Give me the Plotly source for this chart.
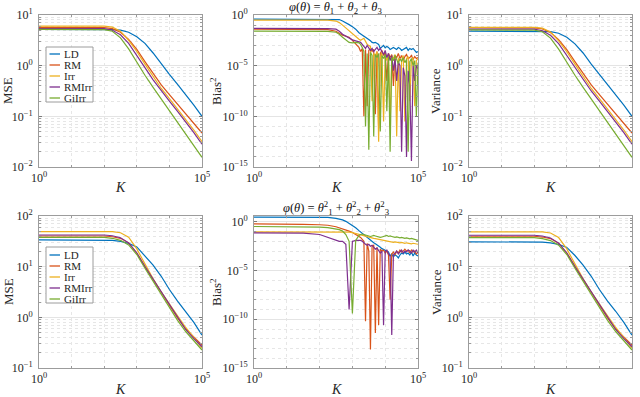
import numpy as np
import plotly.graph_objects as go

W, H = 640, 397
FONT = "Liberation Serif"

methods = ["LD", "RM", "Irr", "RMIrr", "GiIrr"]
colors = ["#0072BD", "#D95319", "#EDB120", "#7E2F8E", "#77AC30"]

# K grid for smooth panels (MSE / Variance)
K_smooth = [1, 3.16, 10, 31.6, 100, 178, 316, 562, 1000, 1778, 3162, 5623,
            10000, 17783, 31623, 56234, 100000]

# K grid for bias panels
K_bias = [1, 3.16, 10, 31.6, 100, 178, 316, 398, 501, 631,
          794, 1000, 1259, 1585, 1778, 1995, 2239, 2512, 2818, 3162,
          3548, 3981, 4467, 5012, 5623, 6310, 7079, 7943, 8913, 10000,
          11220, 12589, 14125, 15849, 17783, 19953, 22387, 25119, 28184, 31623,
          35481, 39811, 44668, 50119, 56234, 63096, 70795, 79433, 89125, 100000]

# ---- values, stored as log10 of the plotted quantity ----
# Row 1: phi = theta1 + theta2 + theta3
mse1_log10 = {
    "LD":    [0.716, 0.716, 0.716, 0.716, 0.716, 0.71, 0.70, 0.66, 0.57, 0.44, 0.25, 0.03, -0.17, -0.37, -0.57, -0.78, -1.0],
    "RM":    [0.755, 0.755, 0.755, 0.755, 0.75, 0.73, 0.66, 0.52, 0.32, 0.08, -0.16, -0.38, -0.57, -0.76, -0.95, -1.14, -1.33],
    "Irr":   [0.78, 0.78, 0.78, 0.78, 0.78, 0.76, 0.68, 0.50, 0.28, 0.03, -0.22, -0.45, -0.65, -0.85, -1.05, -1.27, -1.50],
    "RMIrr": [0.73, 0.73, 0.73, 0.73, 0.73, 0.70, 0.61, 0.44, 0.21, -0.04, -0.28, -0.50, -0.70, -0.90, -1.10, -1.32, -1.55],
    "GiIrr": [0.716, 0.716, 0.716, 0.716, 0.71, 0.68, 0.55, 0.33, 0.06, -0.19, -0.43, -0.66, -0.88, -1.10, -1.33, -1.57, -1.81],
}
var1_log10 = {
    "LD":    [0.68, 0.68, 0.68, 0.68, 0.68, 0.675, 0.67, 0.64, 0.56, 0.43, 0.25, 0.03, -0.17, -0.37, -0.57, -0.78, -1.0],
    "RM":    [0.75, 0.75, 0.75, 0.75, 0.745, 0.725, 0.655, 0.515, 0.315, 0.08, -0.16, -0.38, -0.57, -0.76, -0.95, -1.14, -1.33],
    "Irr":   [0.755, 0.755, 0.755, 0.755, 0.755, 0.74, 0.665, 0.49, 0.275, 0.03, -0.22, -0.45, -0.65, -0.85, -1.05, -1.27, -1.50],
    "RMIrr": [0.72, 0.72, 0.72, 0.72, 0.72, 0.69, 0.60, 0.435, 0.205, -0.04, -0.28, -0.50, -0.70, -0.90, -1.10, -1.32, -1.55],
    "GiIrr": [0.705, 0.705, 0.705, 0.705, 0.70, 0.67, 0.545, 0.325, 0.06, -0.19, -0.43, -0.66, -0.88, -1.10, -1.33, -1.57, -1.81],
}
bias1_log10 = {
    "LD": [-0.4, -0.4, -0.4, -0.4, -0.4, -0.4, -0.42, -0.45, -0.6, -0.75,
           -0.95, -1.15, -1.4, -1.75, -1.9, -2.0, -2.1, -2.2, -2.3, -2.4,
           -2.55, -2.7, -2.75, -2.7, -2.85, -2.9, -3.3, -3.1, -3.0, -3.25,
           -3.1, -3.2, -3.4, -3.3, -3.2, -3.3, -3.4, -3.2, -3.3, -3.5,
           -3.4, -3.3, -3.2, -3.5, -3.3, -3.4, -3.3, -3.5, -3.7, -3.6],
    "RM": [-1.4, -1.4, -1.4, -1.4, -1.4, -1.45, -1.6, -1.8, -2.0, -2.1,
           -2.2, -2.5, -2.8, -3.2, -3.6, -3.3, -10.0, -3.4, -9.0, -3.5,
           -3.3, -3.6, -3.4, -9.8, -3.6, -11.2, -3.8, -3.5, -4.0, -3.7,
           -6.5, -3.8, -4.2, -3.9, -7.0, -4.0, -4.2, -3.8, -4.3, -4.0,
           -4.5, -4.1, -3.9, -4.3, -4.2, -4.0, -4.4, -4.1, -4.3, -4.2],
    "Irr": [-0.5, -0.5, -0.5, -0.5, -0.5, -0.5, -0.6, -0.75, -1.0, -1.3,
            -1.6, -1.9, -2.2, -2.4, -2.5, -2.4, -2.3, -2.6, -2.9, -3.0,
            -3.1, -8.5, -3.8, -4.0, -3.6, -12.5, -4.2, -3.7, -10.5, -4.0,
            -4.5, -3.8, -11.0, -4.0, -4.3, -3.9, -12.0, -4.2, -9.5, -4.5,
            -4.0, -10.5, -4.3, -4.1, -8.5, -4.4, -4.2, -9.0, -4.5, -4.3],
    "RMIrr": [-1.32, -1.32, -1.32, -1.32, -1.32, -1.35, -1.4, -1.6, -1.9, -2.1,
              -2.3, -2.45, -2.55, -2.65, -2.7, -2.9, -3.1, -3.3, -3.0, -3.3,
              -3.5, -3.3, -3.6, -3.4, -3.2, -3.5, -3.3, -3.6, -3.9, -3.5,
              -4.2, -3.8, -4.5, -4.0, -5.5, -4.3, -6.5, -4.6, -5.0, -13.5,
              -5.2, -6.0, -14.0, -5.5, -7.0, -14.4, -5.0, -6.5, -5.0, -5.3],
    "GiIrr": [-1.6, -1.6, -1.6, -1.6, -1.6, -1.62, -1.7, -1.9, -2.2, -2.5,
              -2.7, -2.75, -2.7, -2.75, -2.9, -3.2, -3.6, -11.0, -3.8, -13.3,
              -3.7, -4.0, -12.0, -3.9, -4.2, -3.8, -11.5, -4.0, -4.3, -3.9,
              -9.5, -4.1, -13.5, -4.2, -4.5, -4.0, -4.4, -4.8, -4.3, -4.6,
              -4.2, -4.7, -4.4, -13.5, -4.6, -4.3, -5.0, -4.5, -10.0, -4.7],
}

# Row 2: phi = theta1^2 + theta2^2 + theta3^2
mse2_log10 = {
    "LD":    [1.53, 1.53, 1.53, 1.53, 1.53, 1.52, 1.50, 1.46, 1.39, 1.22, 1.03, 0.81, 0.55, 0.32, 0.12, -0.10, -0.35],
    "RM":    [1.605, 1.605, 1.605, 1.605, 1.605, 1.59, 1.56, 1.47, 1.27, 1.00, 0.75, 0.49, 0.24, -0.01, -0.23, -0.40, -0.55],
    "Irr":   [1.69, 1.69, 1.69, 1.69, 1.69, 1.69, 1.67, 1.58, 1.35, 1.05, 0.76, 0.50, 0.26, 0.03, -0.20, -0.40, -0.61],
    "RMIrr": [1.625, 1.625, 1.625, 1.625, 1.625, 1.61, 1.57, 1.47, 1.27, 1.00, 0.75, 0.49, 0.24, -0.01, -0.24, -0.42, -0.58],
    "GiIrr": [1.58, 1.58, 1.58, 1.58, 1.58, 1.56, 1.52, 1.43, 1.24, 0.97, 0.71, 0.45, 0.19, -0.06, -0.28, -0.47, -0.645],
}
var2_log10 = {
    "LD":    [1.49, 1.49, 1.49, 1.49, 1.49, 1.485, 1.47, 1.44, 1.38, 1.22, 1.03, 0.81, 0.55, 0.32, 0.12, -0.10, -0.35],
    "RM":    [1.60, 1.60, 1.60, 1.60, 1.60, 1.585, 1.555, 1.465, 1.27, 1.00, 0.75, 0.49, 0.24, -0.01, -0.23, -0.40, -0.55],
    "Irr":   [1.685, 1.685, 1.685, 1.685, 1.685, 1.685, 1.665, 1.575, 1.35, 1.05, 0.76, 0.50, 0.26, 0.03, -0.20, -0.40, -0.61],
    "RMIrr": [1.62, 1.62, 1.62, 1.62, 1.62, 1.605, 1.565, 1.465, 1.27, 1.00, 0.75, 0.49, 0.24, -0.01, -0.24, -0.42, -0.58],
    "GiIrr": [1.575, 1.575, 1.575, 1.575, 1.575, 1.555, 1.515, 1.425, 1.24, 0.97, 0.71, 0.45, 0.19, -0.06, -0.28, -0.47, -0.645],
}
bias2_log10 = {
    "LD": [0.48, 0.48, 0.48, 0.48, 0.48, 0.45, 0.35, 0.3, 0.2, 0.05,
           -0.15, -0.35, -0.6, -0.9, -1.05, -1.15, -1.3, -1.45, -1.6, -1.75,
           -1.9, -2.0, -2.15, -2.25, -2.35, -2.5, -2.6, -2.75, -2.85, -2.95,
           -3.0, -3.1, -3.5, -3.3, -3.6, -3.4, -3.5, -3.7, -3.4, -3.2,
           -3.3, -3.1, -3.3, -3.2, -3.4, -3.1, -3.5, -3.2, -3.4, -3.5],
    "RM": [-0.2, -0.2, -0.2, -0.25, -0.3, -0.35, -0.5, -0.6, -0.7, -0.8,
           -0.95, -1.1, -1.3, -1.5, -1.6, -1.8, -2.0, -10.2, -2.2, -3.0,
           -13.1, -2.5, -2.4, -11.4, -2.6, -10.6, -2.8, -3.0, -2.9, -3.2,
           -3.0, -3.4, -8.0, -3.3, -3.1, -3.4, -3.0, -3.2, -2.9, -3.1,
           -3.0, -2.8, -3.0, -2.9, -3.2, -2.9, -3.1, -3.0, -3.3, -3.1],
    "Irr": [-1.03, -1.03, -1.03, -1.03, -1.02, -1.0, -1.0, -1.0, -1.0, -1.02,
            -1.05, -1.1, -1.2, -1.3, -1.35, -1.4, -1.45, -1.5, -1.5, -1.55,
            -1.6, -1.65, -1.7, -1.72, -1.75, -1.8, -1.85, -1.85, -1.9, -1.95,
            -1.95, -2.0, -2.0, -2.05, -2.1, -2.05, -2.1, -2.1, -2.15, -2.1,
            -2.15, -2.2, -2.15, -2.2, -2.2, -2.25, -2.2, -2.25, -2.3, -2.3],
    "RMIrr": [-1.14, -1.14, -1.14, -1.15, -1.3, -1.6, -1.9, -2.0, -2.0, -2.3,
              -9.0, -2.0, -1.9, -1.85, -1.9, -2.0, -2.2, -2.3, -2.4, -2.3,
              -2.5, -2.4, -2.6, -2.8, -2.7, -2.9, -3.2, -3.0, -10.6, -3.1,
              -2.9, -3.3, -3.5, -11.6, -3.4, -3.2, -3.0, -3.3, -3.1, -2.9,
              -3.2, -3.0, -3.1, -2.9, -3.0, -3.2, -2.9, -3.1, -2.9, -3.2],
    "GiIrr": [-0.48, -0.48, -0.48, -0.5, -0.55, -0.6, -0.7, -0.8, -0.95, -1.3,
              -2.0, -9.4, -1.9, -1.4, -1.3, -1.25, -1.3, -1.35, -1.4, -1.45,
              -1.5, -1.45, -1.4, -1.45, -1.5, -1.55, -1.6, -1.55, -1.5, -1.45,
              -1.4, -1.5, -1.45, -1.5, -1.55, -1.6, -1.55, -1.6, -1.65, -1.6,
              -1.65, -1.7, -1.65, -1.7, -1.75, -1.7, -1.75, -1.8, -1.85, -1.9],
}

y_labels = ["MSE", "Bias<sup>2</sup>", "Variance"]
titles = ["<i>φ</i>(<i>θ</i>) = <i>θ</i><sub>1</sub> + <i>θ</i><sub>2</sub> + <i>θ</i><sub>3</sub>",
          "<i>φ</i>(<i>θ</i>) = <i>θ</i><sup>2</sup><sub>1</sub> + <i>θ</i><sup>2</sup><sub>2</sub> + <i>θ</i><sup>2</sup><sub>3</sub>"]

panels = [
    (1, mse1_log10, K_smooth, (-2, 1)),
    (2, bias1_log10, K_bias, (-15, 0)),
    (3, var1_log10, K_smooth, (-2, 1)),
    (4, mse2_log10, K_smooth, (-1, 2)),
    (5, bias2_log10, K_bias, (-15, 0.6)),
    (6, var2_log10, K_smooth, (-1, 2)),
]

# layout geometry (pixels)
xdom_px = [(39, 202), (254, 418), (469, 632)]
ydom_px = [(15, 167), (216, 368)]


def sup_label(e):
    s = str(e).replace("-", "\u2212")
    return f"10<sup>{s}</sup>"


fig = go.Figure()

for idx, data, K, yr in panels:
    ax = "" if idx == 1 else str(idx)
    for m, c in zip(methods, colors):
        fig.add_trace(go.Scatter(
            x=K, y=np.power(10.0, np.array(data[m])), mode="lines",
            line=dict(color=c, width=1.2), name=m, showlegend=False,
            xaxis="x" + ax, yaxis="y" + ax, hoverinfo="skip"))

axis_common = dict(
    type="log", showline=True, linecolor="#9c9c9c", linewidth=1, mirror="ticks",
    ticks="inside", ticklen=3, tickcolor="#7a7a7a", showgrid=True,
    gridcolor="#e4e4e4", gridwidth=1, zeroline=False, automargin=False,
    tickfont=dict(family=FONT, size=12, color="#262626"),
)

layout = dict(
    width=W, height=H, margin=dict(l=0, r=0, t=0, b=0, autoexpand=False),
    paper_bgcolor="white", plot_bgcolor="white",
    font=dict(family=FONT, size=12, color="#262626"),
    showlegend=False,
)

for idx, data, K, yr in panels:
    r = 0 if idx <= 3 else 1
    col = (idx - 1) % 3
    x0, x1 = xdom_px[col]
    y0, y1 = ydom_px[r]
    ax = "" if idx == 1 else str(idx)
    layout["xaxis" + ax] = dict(
        axis_common, domain=[x0 / W, x1 / W], range=[0, 5],
        anchor="y" + ax, tickmode="array", tickvals=[1, 1e5],
        ticktext=[sup_label(0), sup_label(5)],
        minor=dict(tickmode="array", tickvals=[10, 100, 1000, 10000],
                   showgrid=True, gridcolor="#e6e6e6", griddash="dot",
                   ticks="inside", ticklen=2, tickcolor="#9a9a9a"),
    )
    lo, hi = yr
    if idx in (2, 5):
        major = [-15, -10, -5, 0]
        minor_vals = [10.0 ** e for e in range(-15, 1) if e not in major]
    else:
        major = list(range(int(np.ceil(lo)), int(np.floor(hi)) + 1))
        minor_vals = [m * 10.0 ** e for e in range(int(lo), int(hi)) for m in range(2, 10)]
    layout["yaxis" + ax] = dict(
        axis_common, domain=[1 - y1 / H, 1 - y0 / H], range=[lo, hi],
        anchor="x" + ax, tickmode="array", tickvals=[10.0 ** e for e in major],
        ticktext=[sup_label(e) for e in major], ticklabelstandoff=3,
        minor=dict(tickmode="array", tickvals=minor_vals,
                   showgrid=True, gridcolor="#e6e6e6", griddash="dot",
                   ticks="inside", ticklen=2, tickcolor="#9a9a9a"),
    )

annotations = []
shapes = []
ylab_x = [8, 216, 436]
klab_y = [188, 389]
title_y = [8, 208]
for r in range(2):
    y0, y1 = ydom_px[r]
    for col in range(3):
        x0, x1 = xdom_px[col]
        annotations.append(dict(
            text=y_labels[col], x=ylab_x[col] / W, y=1 - (y0 + y1) / 2 / H,
            xref="paper", yref="paper", showarrow=False, textangle=-90,
            xanchor="center", yanchor="middle",
            font=dict(family=FONT, size=13, color="#262626")))
        annotations.append(dict(
            text="<i>K</i>", x=(x0 + x1) / 2 / W, y=1 - klab_y[r] / H,
            xref="paper", yref="paper", showarrow=False,
            xanchor="center", yanchor="middle",
            font=dict(family=FONT, size=14, color="#262626")))
    annotations.append(dict(
        text=titles[r], x=(xdom_px[1][0] + xdom_px[1][1]) / 2 / W, y=1 - title_y[r] / H,
        xref="paper", yref="paper", showarrow=False,
        xanchor="center", yanchor="middle",
        font=dict(family=FONT, size=12.5, color="#111111")))

# legends (left column panels)
leg_box = [(46, 47, 93, 102), (46, 247, 93, 303)]
leg_rows = [[54, 65, 76, 87, 98], [255, 266, 277, 288, 299]]
for r in range(2):
    bx0, by0, bx1, by1 = leg_box[r]
    shapes.append(dict(type="rect", xref="paper", yref="paper",
                       x0=bx0 / W, x1=bx1 / W, y0=1 - by1 / H, y1=1 - by0 / H,
                       line=dict(color="#9c9c9c", width=1), fillcolor="white", layer="above"))
    for m, c, yy in zip(methods, colors, leg_rows[r]):
        shapes.append(dict(type="line", xref="paper", yref="paper",
                           x0=49.5 / W, x1=60 / W, y0=1 - yy / H, y1=1 - yy / H,
                           line=dict(color=c, width=1.3), layer="above"))
        annotations.append(dict(
            text=m, x=62 / W, y=1 - yy / H, xref="paper", yref="paper",
            showarrow=False, xanchor="left", yanchor="middle",
            font=dict(family=FONT, size=11, color="#262626")))

layout["annotations"] = annotations
layout["shapes"] = shapes
fig.update_layout(**layout)
fig.write_html("out.html", config={"displayModeBar": False},
               post_script="document.body.style.margin='0';document.body.style.overflow='hidden';")
